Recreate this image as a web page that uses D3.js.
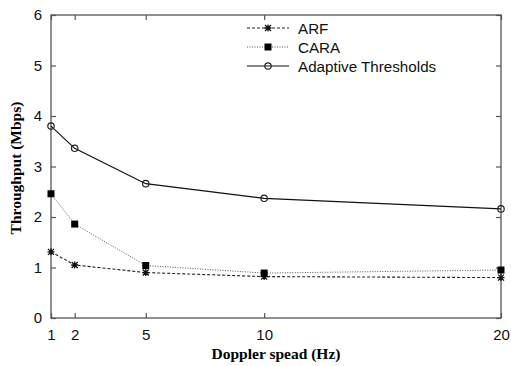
<!DOCTYPE html>
<html><head><meta charset="utf-8">
<script src="https://cdn.jsdelivr.net/npm/d3@7"></script>
<style>body{margin:0;background:#fff}</style></head>
<body><svg id="c" width="511" height="366"></svg>
<script>
const doppler = [1, 2, 5, 10, 20];
const arf = [1.31, 1.05, 0.90, 0.82, 0.80];
const cara = [2.46, 1.86, 1.04, 0.89, 0.95];
const adaptive = [3.80, 3.36, 2.66, 2.37, 2.16];
const xTicks = [1, 2, 5, 10, 20];
const yTicks = [0, 1, 2, 3, 4, 5, 6];

const svg = d3.select('#c');
const L = 51, R = 501, T = 15, B = 318;
const x = d3.scaleLinear().domain([1, 20]).range([L, R]);
const y = d3.scaleLinear().domain([0, 6]).range([B, T]);
const axisCol = '#555';

svg.append('rect').attr('x', L).attr('y', T).attr('width', R - L).attr('height', B - T)
  .attr('fill', 'none').attr('stroke', axisCol).attr('stroke-width', 1.3);

const tl = 5;
const gB = svg.append('g').attr('transform', `translate(0,${B})`)
  .call(d3.axisBottom(x).tickValues(xTicks).tickSize(-tl).tickPadding(11).tickFormat(d3.format('d')));
const gT = svg.append('g').attr('transform', `translate(0,${T})`)
  .call(d3.axisTop(x).tickValues(xTicks).tickSize(-tl).tickFormat(''));
const gL = svg.append('g').attr('transform', `translate(${L},0)`)
  .call(d3.axisLeft(y).tickValues(yTicks).tickSize(-tl).tickPadding(9).tickFormat(d3.format('d')));
const gR = svg.append('g').attr('transform', `translate(${R},0)`)
  .call(d3.axisRight(y).tickValues(yTicks).tickSize(-tl).tickFormat(''));
[gB, gT, gL, gR].forEach(g => {
  g.select('.domain').remove();
  g.selectAll('.tick line').attr('stroke', axisCol).attr('stroke-width', 1.2);
  g.selectAll('.tick text').attr('fill', '#111').style('font-family', 'Liberation Sans, Arial, sans-serif').style('font-size', '15px');
});

const line = d3.line().x((d, i) => x(doppler[i])).y(d => y(d));

const series = [
  {name: 'ARF', vals: arf, dash: '3,2', col: '#222', w: 1.1, marker: 'star'},
  {name: 'CARA', vals: cara, dash: '1,1.5', col: '#555', w: 1, marker: 'square'},
  {name: 'Adaptive Thresholds', vals: adaptive, dash: null, col: '#111', w: 1.2, marker: 'circle'}
];

function drawMarker(g, type, cx, cy) {
  if (type === 'square') {
    g.append('rect').attr('x', cx - 3.5).attr('y', cy - 3.5).attr('width', 7).attr('height', 7).attr('fill', '#000');
  } else if (type === 'circle') {
    g.append('circle').attr('cx', cx).attr('cy', cy).attr('r', 3.2).attr('fill', 'none').attr('stroke', '#222').attr('stroke-width', 1.2);
  } else {
    g.append('path').attr('d', `M${cx-3},${cy-3}L${cx+3},${cy+3}M${cx-3},${cy+3}L${cx+3},${cy-3}M${cx},${cy-3.5}L${cx},${cy+3.5}M${cx-3.5},${cy}L${cx+3.5},${cy}`)
      .attr('stroke', '#111').attr('stroke-width', 1.3);
  }
}

series.forEach(s => {
  svg.append('path').datum(s.vals).attr('d', line).attr('fill', 'none')
    .attr('stroke', s.col).attr('stroke-width', s.w).attr('stroke-dasharray', s.dash);
  const g = svg.append('g');
  s.vals.forEach((v, i) => drawMarker(g, s.marker, x(doppler[i]), y(v)));
});

const legY = [28, 47, 66];
series.forEach((s, i) => {
  const ly = legY[i];
  svg.append('line').attr('x1', 247).attr('x2', 289).attr('y1', ly).attr('y2', ly)
    .attr('stroke', s.col).attr('stroke-width', s.w).attr('stroke-dasharray', s.dash);
  drawMarker(svg, s.marker, 268, ly);
  svg.append('text').attr('x', 298).attr('y', ly + 5.5).text(s.name)
    .style('font-family', 'Liberation Sans, Arial, sans-serif').style('font-size', '15.2px').attr('fill', '#111');
});

svg.append('text').attr('x', 276).attr('y', 359).attr('text-anchor', 'middle')
  .style('font-family', 'Liberation Serif, Times New Roman, serif').style('font-weight', 'bold').style('font-size', '15.5px')
  .text('Doppler spead (Hz)');
svg.append('text').attr('transform', `translate(21,168) rotate(-90)`).attr('text-anchor', 'middle')
  .style('font-family', 'Liberation Serif, Times New Roman, serif').style('font-weight', 'bold').style('font-size', '15.5px')
  .text('Throughput (Mbps)');
</script></body></html>
